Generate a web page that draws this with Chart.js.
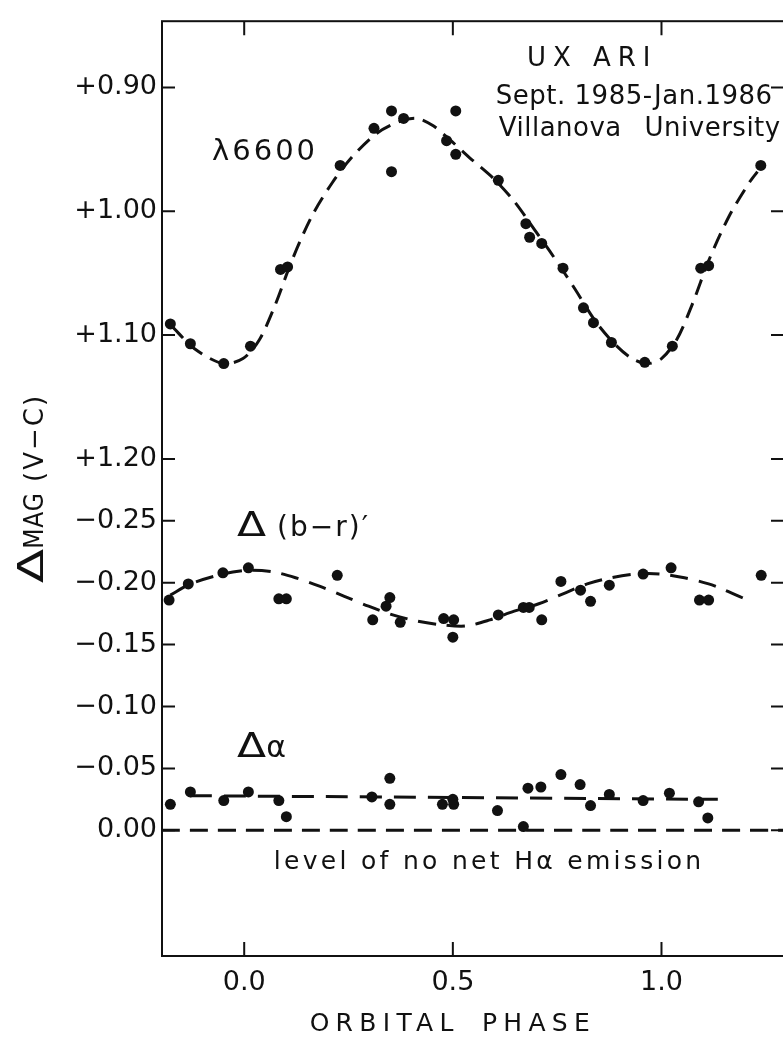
<!DOCTYPE html>
<html>
<head>
<meta charset="utf-8">
<script src="https://cdn.jsdelivr.net/npm/chart.js@4.4.1/dist/chart.umd.min.js"></script>
<style>
  html, body { margin: 0; padding: 0; background: #fff; overflow: hidden; }
  #chart { display: block; }
</style>
</head>
<body>
<canvas id="chart" width="800" height="1038"></canvas>
<script>
// lambda 6600 light curve: orbital phase and delta mag (V-C)
const l6600Phase = [-0.177, -0.129, -0.049, 0.015, 0.087, 0.104, 0.230, 0.311, 0.353, 0.382, 0.353, 0.507, 0.485, 0.507,
  0.609, 0.675, 0.684, 0.713, 0.764, 0.813, 0.837, 0.880, 0.960, 1.026, 1.094, 1.113, 1.238];
const l6600Mag = [1.091, 1.107, 1.123, 1.109, 1.047, 1.045, 0.963, 0.933, 0.919, 0.925, 0.968, 0.919, 0.943, 0.954,
  0.975, 1.010, 1.021, 1.026, 1.046, 1.078, 1.090, 1.106, 1.122, 1.109, 1.046, 1.044, 0.963];
// dashed fit through the lambda 6600 points
const l6600FitPhase = [-0.173, -0.119, -0.051, -0.003, 0.036, 0.075, 0.114, 0.162, 0.211, 0.259, 0.318, 0.376, 0.415,
  0.453, 0.492, 0.541, 0.599, 0.647, 0.696, 0.744, 0.793, 0.842, 0.890, 0.930, 0.968, 1.000, 1.036, 1.074, 1.113,
  1.162, 1.210, 1.230];
const l6600FitMag = [1.093, 1.111, 1.123, 1.119, 1.104, 1.075, 1.040, 1.004, 0.977, 0.956, 0.937, 0.927, 0.925,
  0.931, 0.942, 0.957, 0.974, 0.992, 1.015, 1.038, 1.063, 1.089, 1.108, 1.119, 1.123, 1.119, 1.104, 1.075, 1.040,
  1.004, 0.977, 0.968];

// delta (b-r)' colour index
const brPhase = [-0.180, -0.134, -0.051, 0.010, 0.083, 0.101, 0.223, 0.308, 0.340, 0.349, 0.374, 0.478, 0.502, 0.500,
  0.609, 0.669, 0.683, 0.713, 0.759, 0.806, 0.830, 0.875, 0.956, 1.023, 1.091, 1.113, 1.239];
const brValue = [-0.186, -0.199, -0.208, -0.212, -0.187, -0.187, -0.206, -0.170, -0.181, -0.188, -0.168, -0.171,
  -0.170, -0.156, -0.174, -0.180, -0.180, -0.170, -0.201, -0.194, -0.185, -0.198, -0.207, -0.212, -0.186, -0.186, -0.206];
const brFitPhase = [-0.177, -0.129, -0.051, 0.007, 0.065, 0.123, 0.182, 0.240, 0.298, 0.356, 0.415, 0.473, 0.531,
  0.589, 0.647, 0.706, 0.764, 0.822, 0.880, 0.939, 0.997, 1.055, 1.113, 1.152, 1.206];
const brFitValue = [-0.190, -0.199, -0.207, -0.210, -0.209, -0.204, -0.197, -0.189, -0.181, -0.174, -0.169, -0.166,
  -0.165, -0.170, -0.177, -0.183, -0.191, -0.199, -0.204, -0.207, -0.207, -0.204, -0.199, -0.194, -0.186];

// delta alpha (H-alpha index)
const haPhase = [-0.177, -0.129, -0.049, 0.010, 0.083, 0.101, 0.306, 0.349, 0.349, 0.475, 0.502, 0.500, 0.607, 0.669,
  0.680, 0.711, 0.759, 0.805, 0.830, 0.875, 0.956, 1.019, 1.089, 1.111];
const haValue = [-0.021, -0.031, -0.024, -0.031, -0.024, -0.011, -0.027, -0.042, -0.021, -0.021, -0.021, -0.025,
  -0.016, -0.003, -0.034, -0.035, -0.045, -0.037, -0.020, -0.029, -0.024, -0.030, -0.023, -0.010];
const haFitPhase = [-0.130, 1.135];
const haFitValue = [-0.028, -0.025];

// level of no net H-alpha emission
const zeroPhase = [-0.197, 1.296];
const zeroValue = [0, 0];

// axis ticks (the y axis is broken: two panels on one uniform scale)
const xTicks = [0, 0.5, 1.0];
const yTickUnits = [0, 1, 2, 3, 4, 5, 6, 8, 10, 12];
const yTickLabels = ['0.00', '\u22120.05', '\u22120.10', '\u22120.15', '\u22120.20', '\u22120.25',
  '+1.20', '+1.10', '+1.00', '+0.90'];

// map each panel's values onto the shared plot units
function magToUnit(m) { return 12 - (m - 0.90) / 0.05; }
function colourToUnit(v) { return -v / 0.05; }

function points(xs, ys, fn) {
  return xs.map((x, i) => ({x: x, y: fn(ys[i])}));
}

const ink = '#111';
const font = 'DejaVu Sans';
const delta = {text: '\u0394', size: 34, stretch: 1.25};

// annotations, anchored at (phase, plot unit) on the text baseline
const notes = [
  {x: 0.834, y: 12.35, align: 'center', parts: [{text: 'UX ARI', size: 26, spacing: 7}]},
  {x: 0.603, y: 11.74, align: 'left', parts: [{text: 'Sept. 1985-Jan.1986', size: 26, spacing: 0.5}]},
  {x: 0.61, y: 11.22, align: 'left', parts: [{text: 'Villanova University', size: 26, spacing: 0.5, word: 14}]},
  {x: -0.077, y: 10.83, align: 'left', parts: [{text: '\u03bb6600', size: 29, spacing: 3}]},
  {x: -0.017, y: 4.75, align: 'left', parts: [delta, {text: ' (b\u2212r)\u2032', size: 28, spacing: 2}]},
  {x: -0.017, y: 1.18, align: 'left', parts: [delta, {text: '\u03b1', size: 30, spacing: 0}]},
  {x: 0.587, y: -0.62, align: 'center', parts: [{text: 'level of no net H\u03b1 emission', size: 25, spacing: 3.3}]}
];
const yTitle = [{text: '\u0394', size: 36, stretch: 1.4}, {text: 'MAG', size: 26, stretch: 0.9, spacing: 1},
  {text: ' (V\u2212C)', size: 26, spacing: 2}];

function setFont(ctx, p) {
  ctx.font = p.size + 'px "' + font + '"';
  ctx.letterSpacing = (p.spacing || 0) + 'px';
  ctx.wordSpacing = (p.word || 0) + 'px';
}

function drawParts(ctx, parts, x, y, align) {
  const widths = parts.map(p => { setFont(ctx, p); return ctx.measureText(p.text).width * (p.stretch || 1); });
  const total = widths.reduce((s, w) => s + w, 0);
  let cx = align === 'center' ? x - total / 2 : x;
  parts.forEach((p, i) => {
    setFont(ctx, p);
    ctx.save();
    ctx.translate(cx, y);
    ctx.scale(p.stretch || 1, 1);
    ctx.textAlign = 'left';
    ctx.fillText(p.text, 0, 0);
    ctx.restore();
    cx += widths[i];
  });
}

const framePlugin = {
  id: 'frame',
  afterDraw(chart) {
    const {ctx, chartArea: a, scales: {x, y}} = chart;
    ctx.save();
    ctx.strokeStyle = ink;
    ctx.lineWidth = 2;
    ctx.strokeRect(a.left, a.top, a.right - a.left, a.bottom - a.top);
    ctx.beginPath();
    xTicks.forEach(p => {
      const px = x.getPixelForValue(p);
      ctx.moveTo(px, a.top); ctx.lineTo(px, a.top + 14);
      ctx.moveTo(px, a.bottom); ctx.lineTo(px, a.bottom - 14);
    });
    yTickUnits.forEach(u => {
      const py = y.getPixelForValue(u);
      ctx.moveTo(a.left, py); ctx.lineTo(a.left + 13, py);
      ctx.moveTo(a.right, py); ctx.lineTo(a.right - 14, py);
    });
    ctx.stroke();

    ctx.fillStyle = ink;
    ctx.textBaseline = 'alphabetic';
    notes.forEach(n => drawParts(ctx, n.parts, x.getPixelForValue(n.x), y.getPixelForValue(n.y), n.align));

    // axis titles
    drawParts(ctx, [{text: 'ORBITAL PHASE', size: 25, spacing: 6.3, word: 8}], x.getPixelForValue(0.5), 1031, 'center');
    ctx.save();
    ctx.translate(43, (a.top + a.bottom) / 2);
    ctx.rotate(-Math.PI / 2);
    drawParts(ctx, yTitle, 0, 0, 'center');
    ctx.restore();
    ctx.restore();
  }
};

const fitLine = (data, dash) => ({
  data: data,
  showLine: true,
  borderColor: ink,
  borderWidth: 3,
  borderDash: dash,
  pointRadius: 0,
  tension: 0.3,
  fill: false
});

const dots = (data) => ({
  data: data,
  showLine: false,
  pointRadius: 5.5,
  pointHoverRadius: 5.5,
  pointBackgroundColor: ink,
  pointBorderWidth: 0,
  borderColor: ink
});

new Chart(document.getElementById('chart'), {
  type: 'scatter',
  data: {
    datasets: [
      dots(points(l6600Phase, l6600Mag, magToUnit)),
      fitLine(points(l6600FitPhase, l6600FitMag, magToUnit), [16, 9]),
      dots(points(brPhase, brValue, colourToUnit)),
      fitLine(points(brFitPhase, brFitValue, colourToUnit), [18, 11]),
      dots(points(haPhase, haValue, colourToUnit)),
      fitLine(points(haFitPhase, haFitValue, colourToUnit), [22, 12]),
      fitLine(points(zeroPhase, zeroValue, colourToUnit), [18, 10])
    ]
  },
  options: {
    responsive: false,
    animation: false,
    devicePixelRatio: 1,
    layout: {padding: {top: 12, right: 15, left: 0, bottom: 0}},
    plugins: {legend: {display: false}, tooltip: {enabled: false}},
    scales: {
      x: {
        type: 'linear',
        min: -0.197,
        max: 1.296,
        grid: {display: false, drawTicks: false},
        border: {display: false},
        afterBuildTicks: (scale) => { scale.ticks = xTicks.map(v => ({value: v})); },
        afterFit: (scale) => { scale.height = 82; },
        ticks: {
          autoSkip: false,
          maxRotation: 0,
          padding: 11,
          color: ink,
          font: {family: font, size: 27},
          callback: (v) => v.toFixed(1)
        }
      },
      y: {
        type: 'linear',
        min: -2.03,
        max: 13.07,
        grid: {display: false, drawTicks: false},
        border: {display: false},
        afterBuildTicks: (scale) => { scale.ticks = yTickUnits.map(v => ({value: v})); },
        afterFit: (scale) => { scale.width = 162; },
        ticks: {
          autoSkip: false,
          padding: 5,
          color: ink,
          font: {family: font, size: 27},
          callback: (v) => yTickLabels[yTickUnits.indexOf(v)]
        }
      }
    }
  },
  plugins: [framePlugin]
});
</script>
</body>
</html>
